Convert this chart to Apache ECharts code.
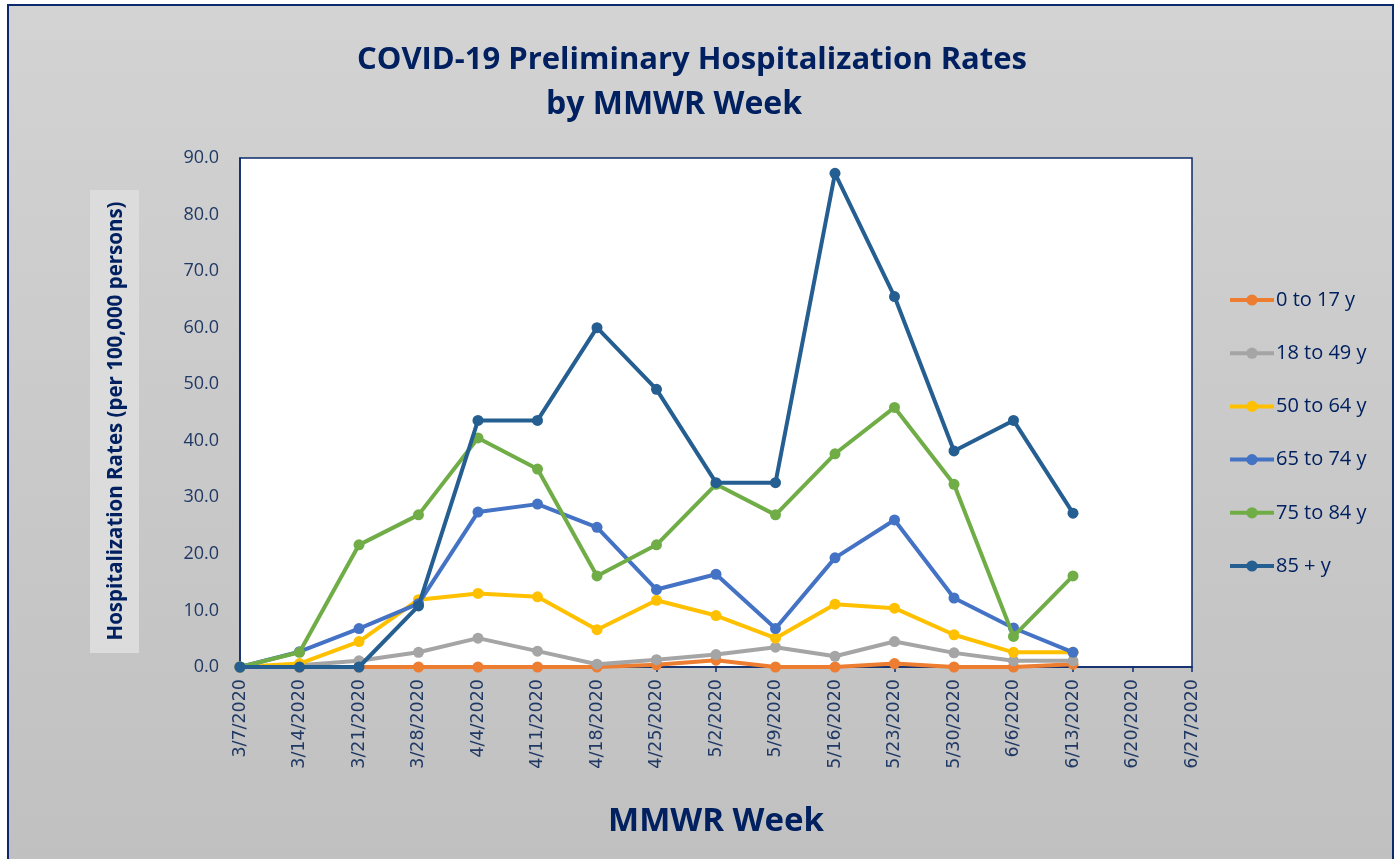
<!DOCTYPE html>
<html>
<head>
<meta charset="utf-8">
<script src="https://cdn.jsdelivr.net/npm/echarts@6/dist/echarts.min.js"></script>
<style>html,body{margin:0;padding:0;background:#fff;}#c{width:1400px;height:859px;}</style>
</head>
<body>
<div id="c"></div>
<script>
const weeks = ['3/7/2020','3/14/2020','3/21/2020','3/28/2020','4/4/2020','4/11/2020','4/18/2020','4/25/2020','5/2/2020','5/9/2020','5/16/2020','5/23/2020','5/30/2020','6/6/2020','6/13/2020','6/20/2020','6/27/2020'];
const age0to17  = [0, 0, 0, 0, 0, 0, 0, 0.4, 1.2, 0, 0, 0.6, 0, 0, 0.5, null, null];
const age18to49 = [0, 0.3, 1.1, 2.6, 5.1, 2.8, 0.5, 1.3, 2.2, 3.5, 1.9, 4.5, 2.5, 1.1, 1.1, null, null];
const age50to64 = [0, 0.6, 4.5, 11.9, 13.0, 12.4, 6.6, 11.8, 9.1, 5.1, 11.1, 10.4, 5.7, 2.6, 2.6, null, null];
const age65to74 = [0, 2.7, 6.8, 11.2, 27.4, 28.8, 24.7, 13.7, 16.4, 6.8, 19.3, 26.0, 12.2, 6.9, 2.6, null, null];
const age75to84 = [0, 2.6, 21.6, 26.9, 40.5, 35.0, 16.1, 21.6, 32.3, 26.9, 37.7, 45.9, 32.3, 5.4, 16.1, null, null];
const age85plus = [0, 0, 0, 10.8, 43.6, 43.6, 60.0, 49.1, 32.6, 32.6, 87.3, 65.5, 38.2, 43.6, 27.2, null, null];
const seriesNames = ['0 to 17 y','18 to 49 y','50 to 64 y','65 to 74 y','75 to 84 y','85 + y'];
const yTicks = {min: 0, max: 90, interval: 10};

const colors = ['#ED7D31','#A5A5A5','#FFC000','#4472C4','#70AD47','#255E91'];
const navy = '#002060';
const tickColor = '#1F3864';
const font = 'Open Sans';
const dataSets = [age0to17, age18to49, age50to64, age65to74, age75to84, age85plus];

const chart = echarts.init(document.getElementById('c'), null, {renderer: 'canvas'});
chart.setOption({
  backgroundColor: '#ffffff',
  animation: false,
  graphic: [
    {type: 'rect', z: -10, silent: true, shape: {x: 8, y: 5, width: 1385, height: 870},
     style: {fill: new echarts.graphic.LinearGradient(0, 0, 0, 1, [{offset: 0, color: '#d3d3d3'}, {offset: 1, color: '#c0c0c0'}]),
             stroke: '#0B2A6B', lineWidth: 2}},
    {type: 'rect', z: -5, silent: true, shape: {x: 90, y: 190, width: 49, height: 463},
     style: {fill: '#dcdcdc'}},
    {type: 'text', z: 5, silent: true, x: 116, y: 421, rotation: Math.PI / 2,
     style: {text: 'Hospitalization Rates (per 100,000 persons)', fill: navy,
             font: 'bold 20.5px "Open Sans"', align: 'center', verticalAlign: 'middle'}}
  ],
  title: [
    {text: 'COVID-19 Preliminary Hospitalization Rates', left: 687, top: 40, textAlign: 'center',
     textStyle: {fontFamily: font, fontWeight: 'bold', fontSize: 31, color: navy}},
    {text: 'by MMWR Week', left: 669, top: 84, textAlign: 'center',
     textStyle: {fontFamily: font, fontWeight: 'bold', fontSize: 32, color: navy}}
  ],
  legend: {
    orient: 'vertical', left: 1223, top: 285, itemGap: 33.2, itemWidth: 44, itemHeight: 14,
    lineStyle: {width: 4},
    textStyle: {fontFamily: font, fontSize: 20, color: navy, padding: [0, 0, 0, -3]},
    data: seriesNames
  },
  grid: {left: 240, top: 158, right: 208, bottom: 192, show: true, backgroundColor: '#ffffff', borderColor: '#0B2A6B', borderWidth: 1.5},
  xAxis: {
    type: 'category', data: weeks, boundaryGap: false,
    axisLine: {lineStyle: {color: '#0B2A6B', width: 1.5}},
    axisTick: {show: true, alignWithLabel: true, length: 5, lineStyle: {color: '#0B2A6B', width: 1.5}},
    axisLabel: {rotate: 90, interval: 0, margin: 12, fontFamily: 'DejaVu Sans', fontSize: 17.5, color: tickColor},
    name: 'MMWR Week', nameLocation: 'middle', nameGap: 138,
    nameTextStyle: {fontFamily: font, fontWeight: 'bold', fontSize: 33, color: navy},
    splitLine: {show: false}
  },
  yAxis: {
    type: 'value', min: yTicks.min, max: yTicks.max, interval: yTicks.interval,
    axisLine: {show: true, lineStyle: {color: '#0B2A6B', width: 1.5}},
    axisTick: {show: false},
    splitLine: {show: false},
    axisLabel: {fontFamily: font, fontSize: 18, color: tickColor, margin: 21, formatter: v => v.toFixed(1)}
  },
  series: seriesNames.map((n, i) => ({
    name: n, type: 'line', data: dataSets[i],
    symbol: 'circle', symbolSize: 11, showSymbol: true,
    lineStyle: {color: colors[i], width: 4},
    itemStyle: {color: colors[i]},
    z: 2 + i
  }))
});
</script>
</body>
</html>
